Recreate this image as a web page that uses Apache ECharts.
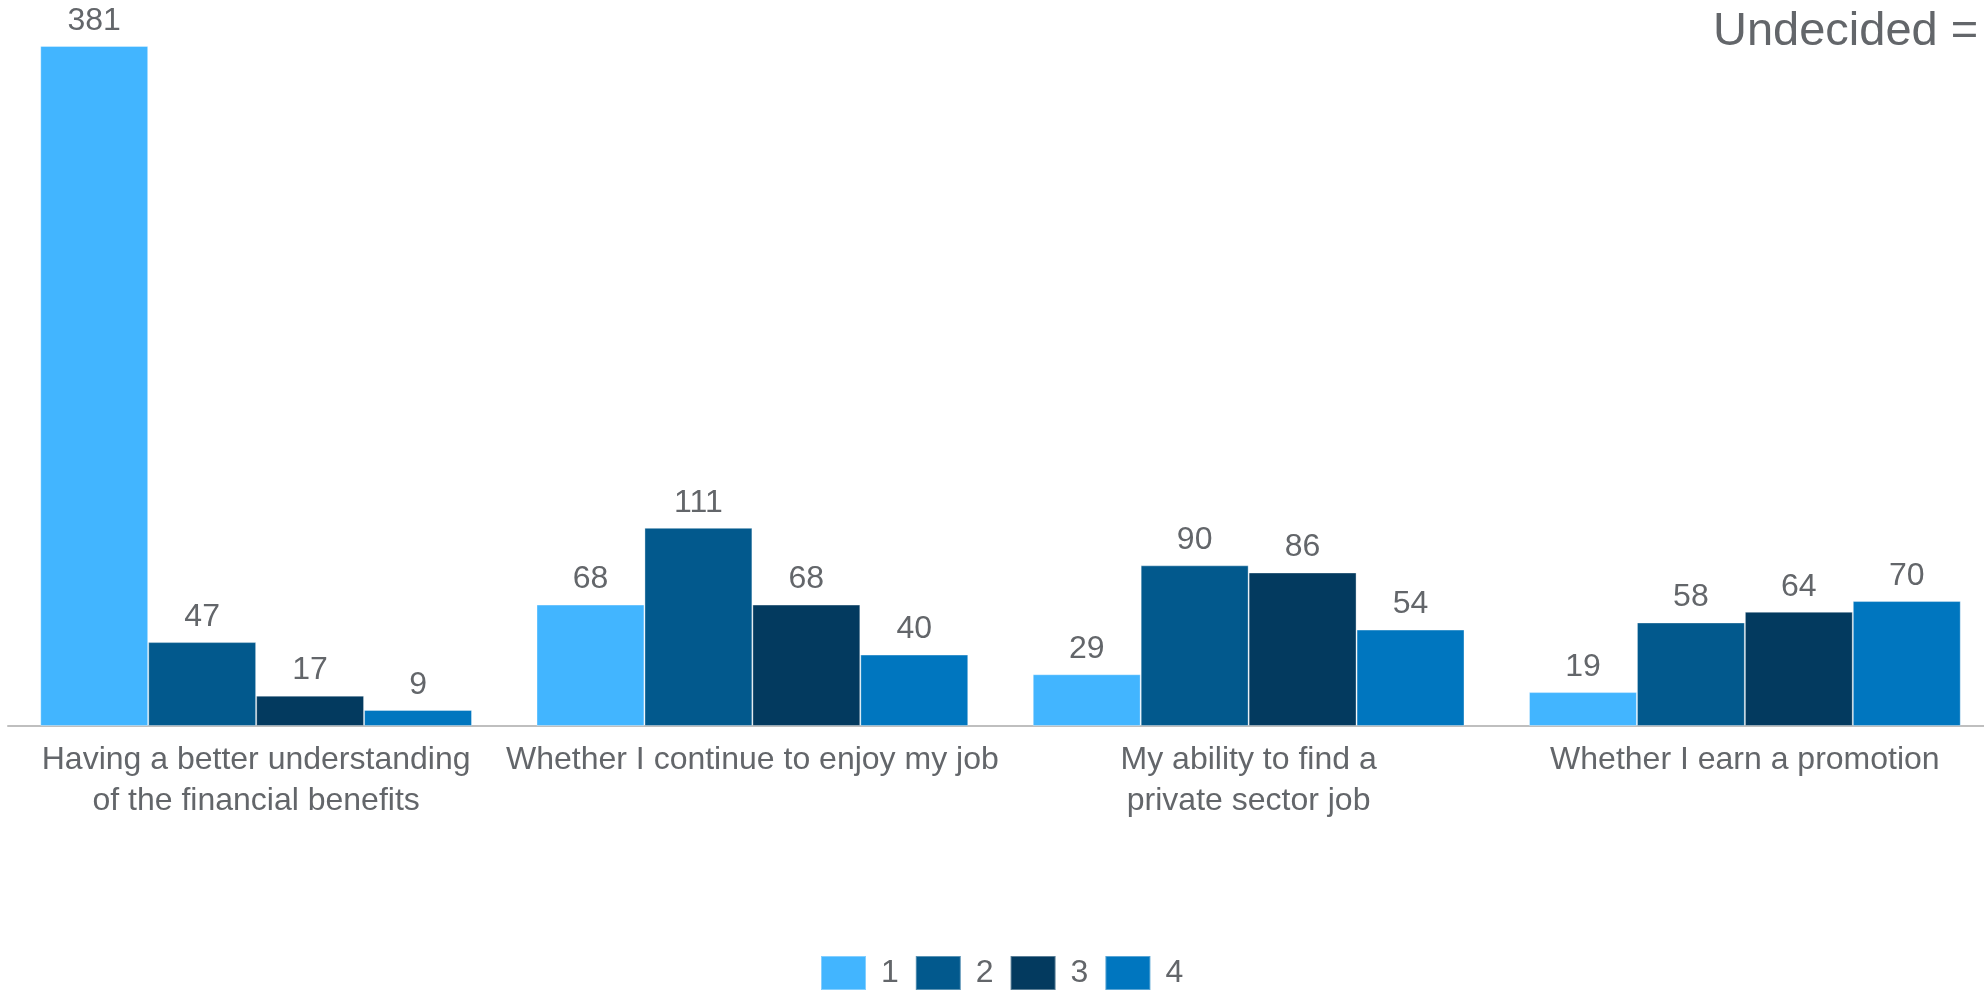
<!DOCTYPE html>
<html>
<head>
<meta charset="utf-8">
<script src="https://cdn.jsdelivr.net/npm/echarts@6/dist/echarts.min.js"></script>
<style>
html,body{margin:0;padding:0;background:#fff;}
#chart{width:1984px;height:991px;}
</style>
</head>
<body>
<div id="chart"></div>
<script>
const categories = [
  "Having a better understanding\nof the financial benefits",
  "Whether I continue to enjoy my job",
  "My ability to find a\nprivate sector job",
  "Whether I earn a promotion"
];
const seriesNames = ["1", "2", "3", "4"];
const values1 = [381, 68, 29, 19];
const values2 = [47, 111, 90, 58];
const values3 = [17, 68, 86, 64];
const values4 = [9, 40, 54, 70];
const titleText = "Undecided =";

const colors = ["#42B5FF", "#02598D", "#033A5F", "#0076BF"];
const textColor = "#63666A";
const font = "'Liberation Sans', Arial, sans-serif";

const allValues = [values1, values2, values3, values4];

const chart = echarts.init(document.getElementById('chart'));
chart.setOption({
  animation: false,
  title: {
    text: titleText,
    left: 1708,
    top: 4,
    textStyle: { fontFamily: font, fontSize: 47, fontWeight: 'normal', color: textColor }
  },
  legend: {
    data: seriesNames,
    top: 955,
    left: 820,
    padding: 0,
    itemWidth: 45,
    itemHeight: 34,
    itemGap: 16,
    icon: 'rect',
    textStyle: { fontFamily: font, fontSize: 32, color: textColor, padding: [10, 0, 0, 10] }
  },
  grid: { left: 8, width: 1985, top: 12, bottom: 265, containLabel: false, outerBoundsMode: 'none' },
  xAxis: {
    type: 'category',
    data: categories,
    axisLine: { show: true, lineStyle: { color: '#BFBFBF', width: 2 } },
    axisTick: { show: false },
    axisLabel: {
      interval: 0,
      margin: 14,
      fontFamily: font,
      fontSize: 32,
      lineHeight: 41,
      color: textColor
    }
  },
  yAxis: {
    type: 'value',
    min: 0,
    max: 400,
    show: false,
    splitLine: { show: false }
  },
  series: seriesNames.map((name, i) => ({
    name: name,
    type: 'bar',
    data: allValues[i],
    barGap: '0%',
    barCategoryGap: '13%',
    itemStyle: { color: colors[i], borderColor: 'rgba(255,255,255,0.35)', borderWidth: 1 },
    label: {
      show: true,
      position: 'top',
      distance: 9,
      fontFamily: font,
      fontSize: 32,
      color: textColor
    }
  }))
});
</script>
</body>
</html>
